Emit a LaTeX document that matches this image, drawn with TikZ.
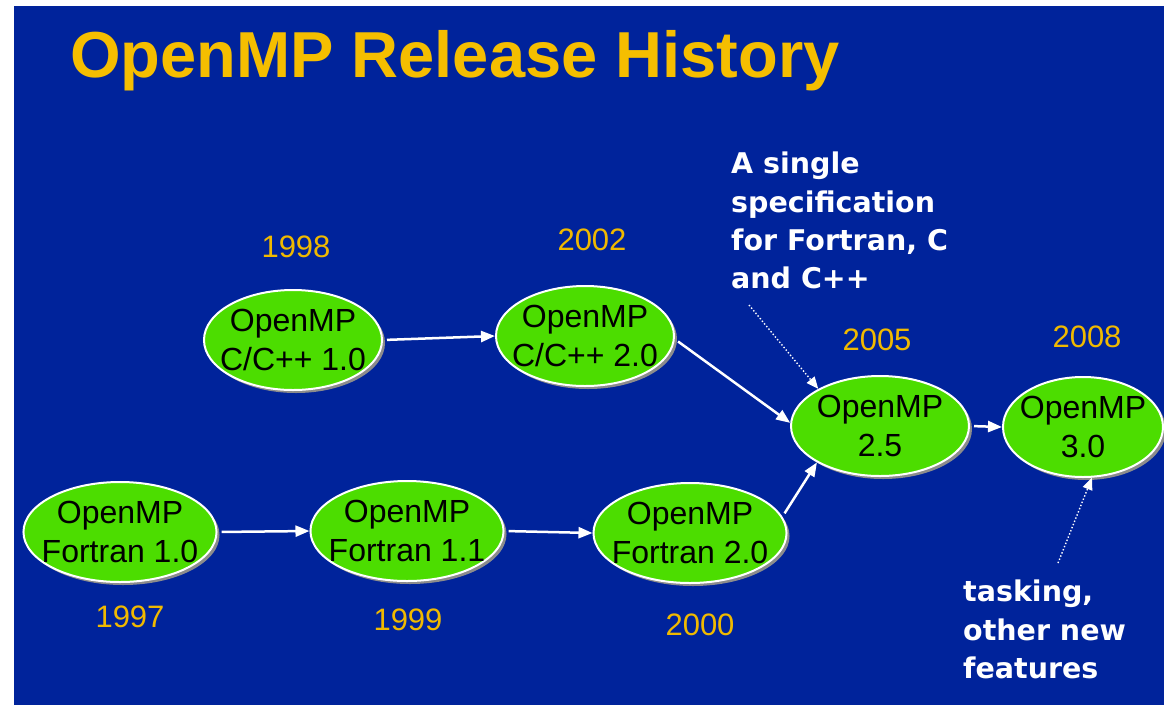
\documentclass[tikz,border=0pt]{standalone}
\usepackage{fontspec}
\setmainfont{Liberation Sans}
\newfontfamily\notefont{DejaVu Sans}
\usetikzlibrary{shapes.geometric,shadows,arrows.meta}
\definecolor{slideblue}{RGB}{0,35,155}
\definecolor{titlegold}{RGB}{245,190,0}
\definecolor{yeargold}{RGB}{240,185,0}
\definecolor{nodegreen}{RGB}{76,221,0}
\tikzset{
  ver/.style={ellipse, draw=white, line width=2pt, fill=nodegreen, inner xsep=-10pt, inner ysep=-15pt,
    minimum width=178pt, minimum height=100pt, align=center, text=black,
    font=\fontsize{32}{39}\selectfont,
    drop shadow={shadow xshift=3pt, shadow yshift=-3pt, fill=black!45, opacity=1}},
  year/.style={text=yeargold, font=\fontsize{31}{38}\selectfont, inner sep=0pt},
  note/.style={text=white, font=\notefont\bfseries\fontsize{28.5}{38.3}\selectfont, align=left, inner sep=0pt, anchor=north west},
  flow/.style={draw=white, line width=2.5pt, -{Triangle[length=14pt,width=11pt]}, shorten <=4pt},
  hint/.style={draw=white, line width=1.4pt, dotted, -{Triangle[length=12pt,width=10pt]}}
}
\begin{document}
\begin{tikzpicture}[x=1pt,y=-1pt]
\useasboundingbox (0,0) rectangle (1164,705);
\fill[white] (0,0) rectangle (1164,705);
\fill[slideblue] (14,6) rectangle (1164,705);
\node[anchor=base west, inner sep=0pt, text=titlegold, font=\bfseries\fontsize{65}{70}\selectfont] (title) at (70,77) {OpenMP Release History};

\node[ver] (c10) at (293,340) {OpenMP\\C/C++ 1.0};
\node[ver] (c20) at (585,336) {OpenMP\\C/C++ 2.0};
\node[ver, minimum width=184pt] (f10) at (120,532) {OpenMP\\Fortran 1.0};
\node[ver, minimum width=187pt] (f11) at (407,531) {OpenMP\\Fortran 1.1};
\node[ver, minimum width=188pt] (f20) at (690,533) {OpenMP\\Fortran 2.0};
\node[ver] (v25) at (880,426) {OpenMP\\2.5};
\node[ver, minimum width=160pt] (v30) at (1083,427) {OpenMP\\3.0};

\node[year] (y98) at (296,247) {1998};
\node[year] (y02) at (592,240) {2002};
\node[year] (y05) at (877,340) {2005};
\node[year] (y08) at (1087,337) {2008};
\node[year] (y97) at (130,617) {1997};
\node[year] (y99) at (408,620) {1999};
\node[year] (y00) at (700,625) {2000};

\node[note] (n1) at (731,152) {A single\\specification\\for Fortran, C\\and C++};
\node[note] (n2) at (963,580) {tasking,\\other new\\features};

\coordinate (h1) at (749,305);
\coordinate (h2) at (1058,563);

\draw[flow] (c10.east) -- (c20.west);
\draw[flow] (c20.-2) -- (v25.178);
\draw[flow] (f10.east) -- (f11.west);
\draw[flow] (f11.east) -- (f20.west);
\draw[flow] (f20.10) -- (v25.210);
\draw[flow] (v25.east) -- (v30.west);
\draw[hint] (h1) -- (v25.149);
\draw[hint] (h2) -- (v30.-80);
\end{tikzpicture}
\end{document}
